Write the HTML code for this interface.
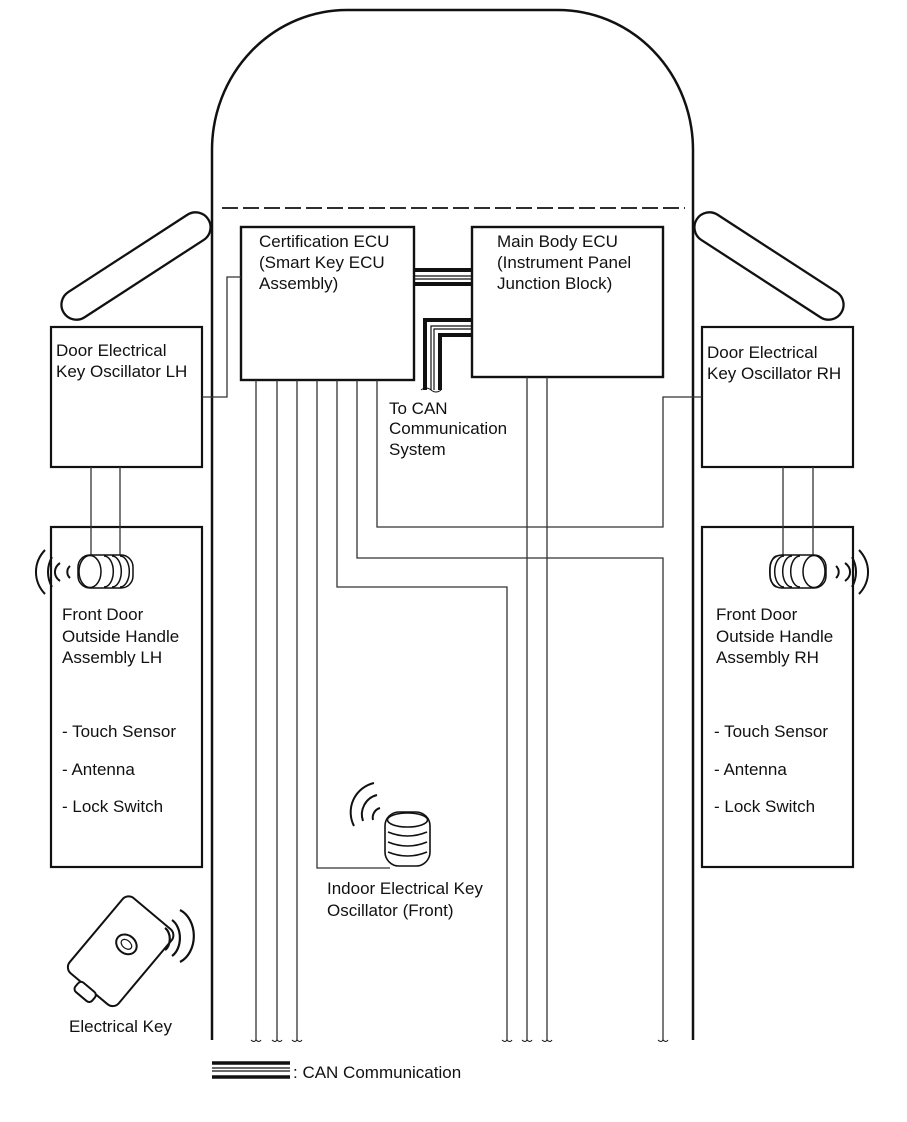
<!DOCTYPE html>
<html><head><meta charset="utf-8"><style>
html,body{margin:0;padding:0;background:#fff}
svg{display:block}
text{font-family:"Liberation Sans",Arial,sans-serif;font-size:17px;fill:#111}
</style></head><body>
<svg width="907" height="1122" viewBox="0 0 907 1122" xmlns="http://www.w3.org/2000/svg">
<g fill="none" stroke="#111">
<path d="M212,1040 V150 A135,140 0 0 1 347,10 H558 A135,140 0 0 1 693,150 V1040" stroke-width="2.5"/>
<line x1="222" y1="208" x2="685" y2="208" stroke-width="1.8" stroke-dasharray="16,5"/>
<g transform="translate(136,266) rotate(-33)"><rect x="-86" y="-15" width="172" height="30" rx="15" fill="#fff" stroke-width="2.3"/></g>
<g transform="translate(769,266) rotate(33)"><rect x="-86" y="-15" width="172" height="30" rx="15" fill="#fff" stroke-width="2.3"/></g>
<rect x="51" y="327" width="151" height="140" fill="#fff" stroke-width="2.2"/>
<rect x="702" y="327" width="151" height="140" fill="#fff" stroke-width="2.2"/>
<rect x="51" y="527" width="151" height="340" stroke-width="2.2"/>
<rect x="702" y="527" width="151" height="340" stroke-width="2.2"/>
<rect x="241" y="227" width="173" height="153" stroke-width="2.4"/>
<rect x="472" y="227" width="191" height="150" stroke-width="2.4"/>
<g stroke-width="1.3" stroke="#333">
<path d="M202,397 H227 V277 H241"/>
<path d="M702,397 H663 V527 H377 V380"/>
<path d="M357,380 V558 H663 V1040"/>
<path d="M337,380 V587 H507 V1040"/>
<path d="M317,380 V868 H390"/>
<path d="M297,380 V1040"/><path d="M277,380 V1040"/><path d="M256,380 V1040"/>
<path d="M527,377 V1040"/><path d="M547,377 V1040"/>
<path d="M91,467 V555"/><path d="M120,467 V555"/>
<path d="M783,467 V555"/><path d="M813,467 V555"/>
</g>
<g stroke-width="1">
<path d="M251,1040 q3,3 5,0 q3,3 5,0"/><path d="M272,1040 q3,3 5,0 q3,3 5,0"/><path d="M292,1040 q3,3 5,0 q3,3 5,0"/>
<path d="M502,1040 q3,3 5,0 q3,3 5,0"/><path d="M522,1040 q3,3 5,0 q3,3 5,0"/><path d="M542,1040 q3,3 5,0 q3,3 5,0"/><path d="M658,1040 q3,3 5,0 q3,3 5,0"/>
<path d="M421,390 q5,-4 10,0 q5,4 10,0"/>
</g>
<line x1="414" y1="270" x2="472" y2="270" stroke-width="4"/>
<line x1="414" y1="276" x2="472" y2="276" stroke-width="1.2"/>
<line x1="414" y1="279" x2="472" y2="279" stroke-width="1.2"/>
<line x1="414" y1="284" x2="472" y2="284" stroke-width="4"/>
<path d="M472,320 H425 V390" stroke-width="4"/>
<path d="M472,326 H431 V390" stroke-width="1.2"/>
<path d="M472,329 H434 V390" stroke-width="1.2"/>
<path d="M472,335 H440 V390" stroke-width="4"/>
<line x1="212" y1="1063" x2="290" y2="1063" stroke-width="3.5"/>
<line x1="212" y1="1068" x2="290" y2="1068" stroke-width="1.2"/>
<line x1="212" y1="1071" x2="290" y2="1071" stroke-width="1.2"/>
<line x1="212" y1="1077" x2="290" y2="1077" stroke-width="3.5"/>
<g stroke-width="1.5">
<rect x="78" y="555" width="55" height="33" rx="12" fill="#fff"/>
<ellipse cx="90" cy="571.5" rx="11" ry="16" fill="#fff"/>
<path d="M104,556 a9,15 0 0 1 0,31 M112,556 a9,15 0 0 1 0,31 M120,556 a9,15 0 0 1 0,31"/>
<path d="M52,557 a30,30 0 0 0 0,30 M45,550 a38,34 0 0 0 0,44 M60,563 a15,12 0 0 0 0,18 M70,566 a8,8 0 0 0 0,12" stroke-width="2"/>
</g>
<g stroke-width="1.5">
<rect x="770" y="555" width="56" height="33" rx="12" fill="#fff"/>
<ellipse cx="814" cy="571.5" rx="11" ry="16" fill="#fff"/>
<path d="M800,556 a9,15 0 0 0 0,31 M792,556 a9,15 0 0 0 0,31 M784,556 a9,15 0 0 0 0,31 M777,556 a7,15 0 0 0 0,31"/>
<path d="M852,557 a30,30 0 0 1 0,30 M859,550 a38,34 0 0 1 0,44 M845,563 a15,12 0 0 1 0,18 M836,566 a8,8 0 0 1 0,12" stroke-width="2"/>
</g>
<g stroke-width="1.6">
<rect x="385" y="812" width="45" height="54" rx="14" fill="#fff"/>
<ellipse cx="407.5" cy="820" rx="20" ry="7" fill="#fff"/>
<path d="M388,832 q19.5,8 39,0 M388,842 q19.5,8 39,0 M388,852 q19.5,8 39,0"/>
<path d="M374,783 a30,30 0 0 0 -20,43 M377,795 a20,20 0 0 0 -14,26 M380,808 a10,10 0 0 0 -7,12" stroke-width="2"/>
</g>
<g transform="translate(120,952) rotate(40)" stroke-width="2">
<rect x="-32" y="-50" width="64" height="98" rx="8" fill="#fff"/>
<rect x="-12" y="47" width="22" height="12" rx="4" fill="#fff"/>
<ellipse cx="0" cy="-10" rx="11" ry="9"/>
<ellipse cx="0" cy="-10" rx="6" ry="4" stroke-width="1.2"/>
</g>
<path d="M165,928 a8,12 0 0 1 0,22 M172,920 a14,20 0 0 1 0,36 M180,910 a22,28 0 0 1 0,52" stroke-width="2.2"/>
</g>
<text x="56" y="356">Door Electrical</text>
<text x="56" y="377">Key Oscillator LH</text>
<text x="707" y="358">Door Electrical</text>
<text x="707" y="379">Key Oscillator RH</text>
<text x="259" y="247">Certification ECU</text>
<text x="259" y="268">(Smart Key ECU</text>
<text x="259" y="289">Assembly)</text>
<text x="497" y="247">Main Body ECU</text>
<text x="497" y="268">(Instrument Panel</text>
<text x="497" y="289">Junction Block)</text>
<text x="389" y="414">To CAN</text>
<text x="389" y="434">Communication</text>
<text x="389" y="455">System</text>
<text x="62" y="620">Front Door</text>
<text x="62" y="642">Outside Handle</text>
<text x="62" y="663">Assembly LH</text>
<text x="62" y="737">- Touch Sensor</text>
<text x="62" y="775">- Antenna</text>
<text x="62" y="812">- Lock Switch</text>
<text x="716" y="620">Front Door</text>
<text x="716" y="642">Outside Handle</text>
<text x="716" y="663">Assembly RH</text>
<text x="714" y="737">- Touch Sensor</text>
<text x="714" y="775">- Antenna</text>
<text x="714" y="812">- Lock Switch</text>
<text x="327" y="894">Indoor Electrical Key</text>
<text x="327" y="916">Oscillator (Front)</text>
<text x="69" y="1032">Electrical Key</text>
<text x="293" y="1078">: CAN Communication</text>
</svg>
</body></html>
